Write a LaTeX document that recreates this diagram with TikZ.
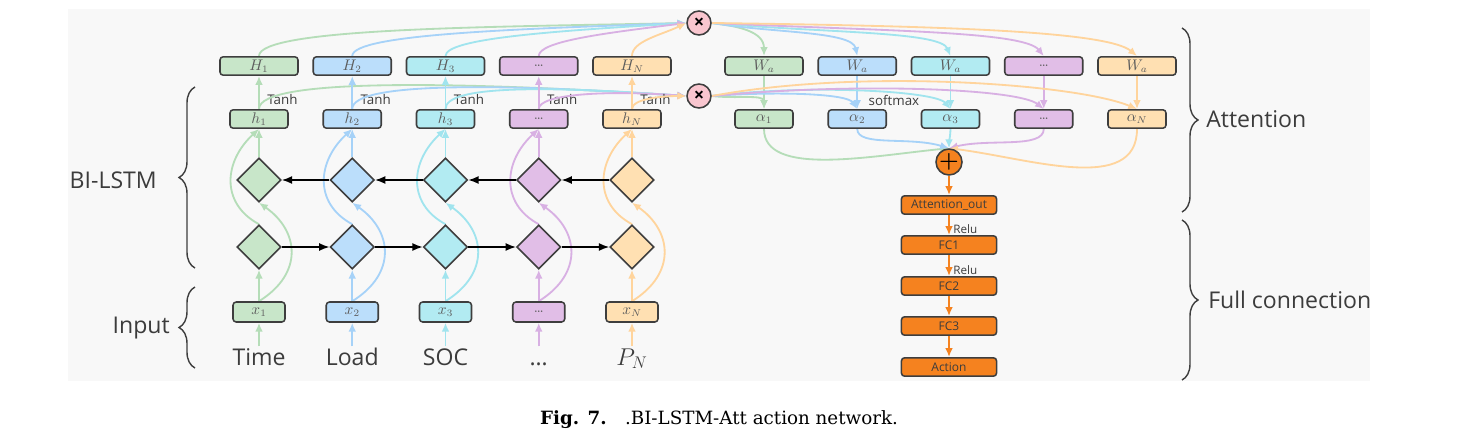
\documentclass[tikz,border=0pt]{standalone}
\usepackage{fontspec}
\usetikzlibrary{shapes.geometric,arrows.meta,decorations.pathreplacing}
\newfontfamily\uifont{Open Sans}
\newfontfamily\capfont{DejaVu Serif}
\definecolor{hinter}{HTML}{F8F8F8}
\definecolor{rand}{HTML}{3E3E3E}
\definecolor{schrift}{HTML}{3C3C3C}
\definecolor{mathe}{HTML}{5C5C5C}
\definecolor{fgruen}{HTML}{C8E6C9}
\definecolor{fblau}{HTML}{BBDEFB}
\definecolor{ftuerkis}{HTML}{B2EBF2}
\definecolor{flila}{HTML}{E1BEE7}
\definecolor{forange}{HTML}{FFE0B2}
\definecolor{lgruen}{HTML}{B5DDB8}
\definecolor{lblau}{HTML}{A6D2F8}
\definecolor{ltuerkis}{HTML}{A0E4EE}
\definecolor{llila}{HTML}{D8B0E3}
\definecolor{lorange}{HTML}{FFD49C}
\definecolor{voll}{HTML}{F5821F}
\definecolor{rosa}{HTML}{F9C6CF}
\pgfdeclarelayer{hinten}
\pgfdeclarelayer{linien}
\pgfsetlayers{hinten,linien,main}

\begin{document}
\begin{tikzpicture}[x=0.25mm,y=0.25mm,>={Latex[length=2.2mm,width=1.9mm]},
	kasten/.style={draw=rand,line width=1.1pt,rounded corners=0.8mm,minimum height=4.6mm,inner sep=0pt,text=mathe,font=\fontsize{10.5}{12}\selectfont},
	raute/.style={diamond,draw=rand,line width=1.1pt,minimum width=11mm,minimum height=11mm,inner sep=0pt},
	fcbox/.style={kasten,fill=voll,minimum width=23.8mm,text=schrift,font=\uifont\fontsize{8.5}{10}\selectfont},
	klein/.style={text=schrift,font=\uifont\fontsize{9.5}{11}\selectfont,inner sep=1pt},
	gross/.style={text=schrift,font=\uifont\fontsize{16.4}{19}\selectfont,inner sep=0pt},
	beschr/.style={gross,text height=12pt,inner sep=1pt,anchor=base},
	kreuz/.style={circle,draw=rand,line width=1.1pt,fill=rosa,minimum size=6mm,inner sep=0pt,font=\uifont\bfseries\fontsize{13}{13}\selectfont},
	bogen/.style={->,line width=1.3pt},
	pf/.style={-{Latex[length=2.6mm,width=2mm]},line width=1.1pt,black},
	ofl/.style={->,draw=voll,line width=1.4pt},
	klammer/.style={draw=rand,line width=1pt,decorate,decoration={brace,amplitude=4mm}}]

\useasboundingbox (0,0) rectangle (1469,439);
\begin{pgfonlayer}{hinten}
	\fill[hinter] (68,58) rectangle (1370,430);
\end{pgfonlayer}

\foreach \i/\fb/\gH/\kh/\ein/\txt in {
	1/fgruen/{$H_1$}/{$h_1$}/{$x_1$}/Time,
	2/fblau/{$H_2$}/{$h_2$}/{$x_2$}/Load,
	3/ftuerkis/{$H_3$}/{$h_3$}/{$x_3$}/SOC,
	4/flila/{\ldots}/{\ldots}/{\ldots}/{\ldots},
	5/forange/{$H_N$}/{$h_N$}/{$x_N$}/{\fontsize{18.5}{20}\selectfont$P_N$}}{
	\pgfmathsetmacro{\cx}{259+93.25*(\i-1)}
	\node[kasten,fill=\fb,minimum width=19.5mm] (H\i) at (\cx,373) {\gH};
	\node[kasten,fill=\fb,minimum width=14.5mm] (h\i) at (\cx,320) {\kh};
	\node[raute,fill=\fb] (ob\i) at (\cx,259) {};
	\node[raute,fill=\fb] (un\i) at (\cx,192) {};
	\node[kasten,fill=\fb,minimum width=13mm,minimum height=5mm] (x\i) at (\cx,127) {\ein};
	\node[beschr] (lab\i) at (\cx,74) {\txt};
}

\node[kreuz] (m1) at (699,416) {×};
\node[kreuz] (m2) at (699,343) {×};

\foreach \j/\fb/\w/\al in {
	1/fgruen/{$W_a$}/{$\alpha_1$},
	2/fblau/{$W_a$}/{$\alpha_2$},
	3/ftuerkis/{$W_a$}/{$\alpha_3$},
	4/flila/{\ldots}/{\ldots},
	5/forange/{$W_a$}/{$\alpha_N$}}{
	\pgfmathsetmacro{\cx}{764+93.25*(\j-1)}
	\node[kasten,fill=\fb,minimum width=19.5mm] (W\j) at (\cx,373) {\w};
	\node[kasten,fill=\fb,minimum width=14.5mm] (a\j) at (\cx,320) {\al};
}

\node[circle,draw=rand,line width=1.1pt,fill=voll,minimum size=6.5mm,inner sep=0pt] (plus) at (949,277) {\fontsize{16}{16}\selectfont\bfseries +};
\node[klein,anchor=west] (smax) at (867,339) {softmax};

\node[fcbox] (aout) at (949,234) {Attention\_out};
\node[fcbox] (fc1) at (949,194) {FC1};
\node[fcbox] (fc2) at (949,153) {FC2};
\node[fcbox] (fc3) at (949,113) {FC3};
\node[fcbox] (act) at (949,72) {Action};

\begin{pgfonlayer}{linien}
\foreach \i/\lf/\ha/\hb/\hc/\ka/\kb/\kc in {
	1/lgruen/28/-200/-4/32/-220/14,
	2/lblau/22/-170/-6/28/-180/12,
	3/ltuerkis/18/-130/-8/24/-140/10,
	4/llila/15/-80/-10/15/-80/6,
	5/lorange/15/-25/-12/10/-25/0}{
	\draw[bogen,\lf] (lab\i) -- (x\i);
	\draw[bogen,\lf] (x\i) -- (un\i);
	\draw[bogen,\lf] (x\i.north) .. controls +(45,28) and +(40,-28) .. (ob\i.south);
	\draw[bogen,\lf] (un\i.north) .. controls +(-39,21) and +(-35,-32) .. (h\i.south);
	\draw[bogen,\lf] (ob\i) -- (h\i);
	\draw[bogen,\lf] (h\i) -- node[klein,pos=0.3,right=1.5mm] {Tanh} (H\i);
	\draw[bogen,\lf] (H\i.north) .. controls +(0,\ha) and +(\hb,\hc) .. (m1.west);
	\draw[bogen,\lf] (h\i.north) .. controls +(0,\ka) and +(\kb,\kc) .. (m2.west);
}
\foreach \j/\lf/\pa/\pb/\pc/\qa/\qb/\qc/\qd/\ra/\rb/\rc in {
	1/lgruen/25/-3/0/25/-3/0/15/-48/-80/-8,
	2/lblau/60/-10/-5/70/5/-10/15/-18/-40/12,
	3/ltuerkis/110/-10/-10/100/12/-15/18/-5/0/5,
	4/llila/170/-8/-20/150/14/-25/20/-20/40/10,
	5/lorange/230/-3/-30/150/28/-60/25/-66/80/-10}{
	\draw[bogen,\lf] (m1.east) .. controls +(\pa,\pb) and +(\pc,25) .. (W\j.north);
	\draw[bogen,\lf] (W\j) -- (a\j);
	\draw[bogen,\lf] (m2.east) .. controls +(\qa,\qb) and +(\qc,\qd) .. (a\j.north);
	\draw[bogen,\lf] (a\j.south) .. controls +(0,\ra) and +(\rb,\rc) .. (plus.north);
}
\end{pgfonlayer}

\foreach \i/\j in {1/2,2/3,3/4,4/5}{
	\draw[pf] (un\i) -- (un\j);
	\draw[pf] (ob\j) -- (ob\i);
}

\draw[ofl] (plus) -- (aout);
\draw[ofl] (aout) -- node[klein,pos=0.7,right=0.5mm,font=\uifont\fontsize{8.3}{10}\selectfont] {Relu} (fc1);
\draw[ofl] (fc1) -- node[klein,pos=0.7,right=0.5mm,font=\uifont\fontsize{8.3}{10}\selectfont] {Relu} (fc2);
\draw[ofl] (fc2) -- (fc3);
\draw[ofl] (fc3) -- (act);

\draw[klammer] (195,171) -- (195,352);
\node[gross,anchor=east] (lstm) at (157,259) {BI-LSTM};
\draw[klammer] (195,71) -- (195,152);
\node[gross,anchor=east] (inp) at (170,111) {Input};
\draw[klammer] (1182,411) -- (1182,227);
\node[gross,anchor=west] (att) at (1206,320) {Attention};
\draw[klammer] (1182,219) -- (1182,59);
\node[gross,anchor=west] (full) at (1208,139) {Full connection};

\node[font=\capfont\fontsize{13}{15}\selectfont] (cap) at (719,19) {\textbf{Fig. 7.}\quad .BI-LSTM-Att action network.};

\end{tikzpicture}
\end{document}
